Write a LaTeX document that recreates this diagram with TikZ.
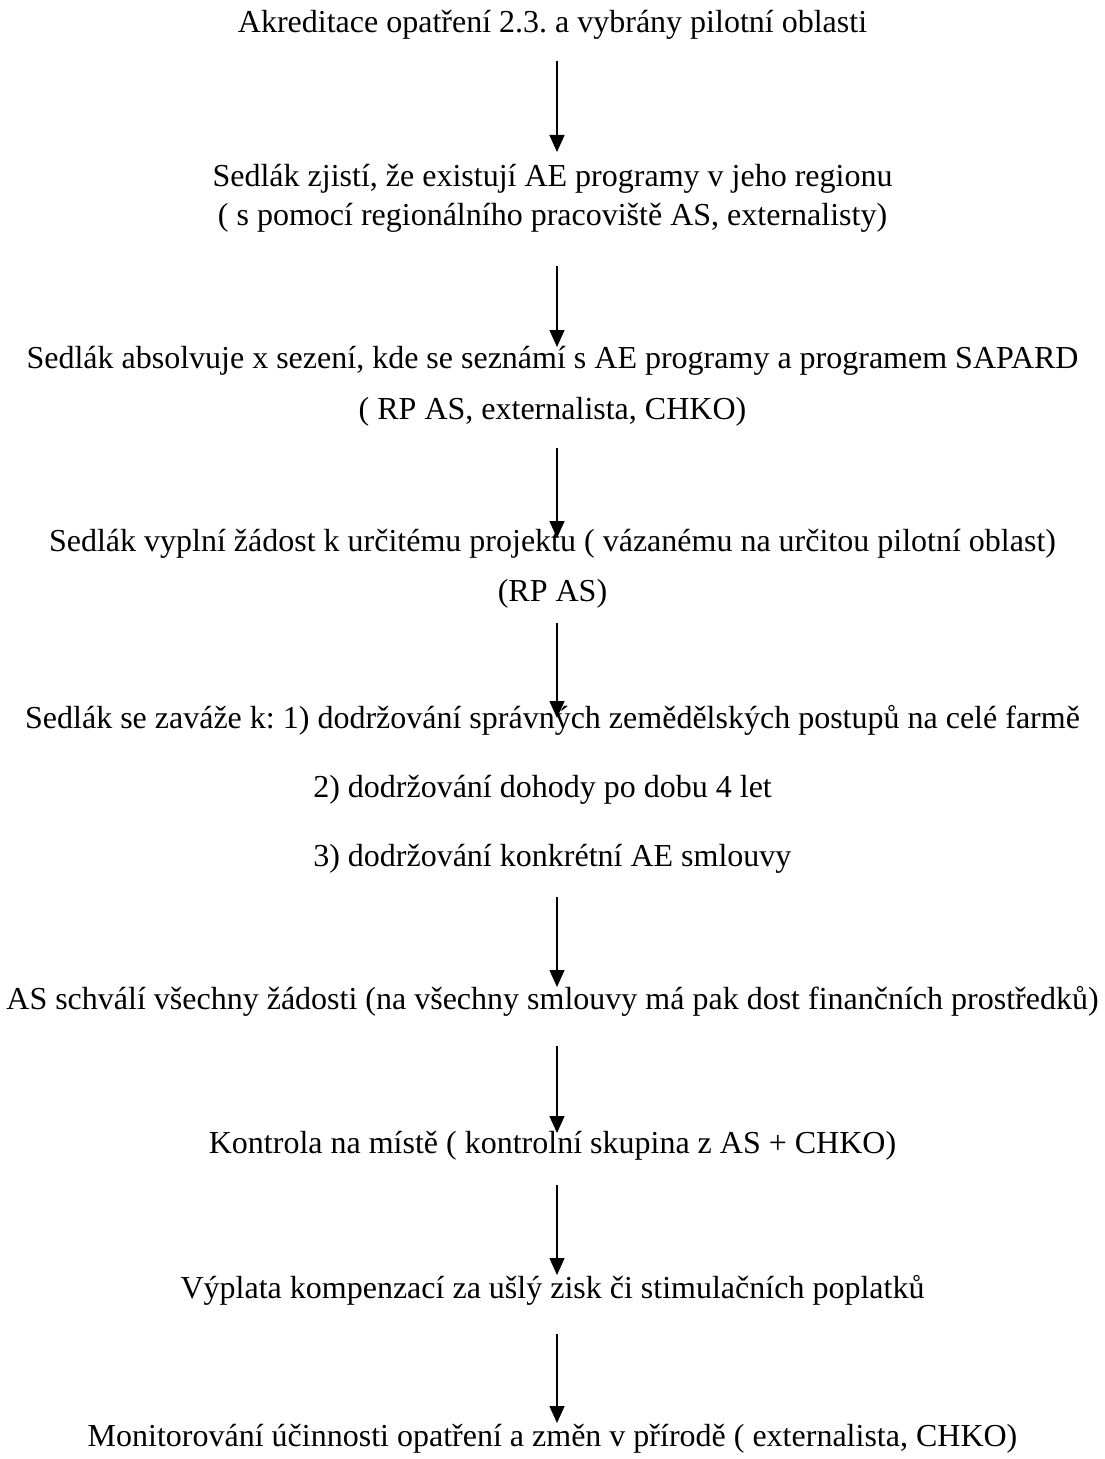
\documentclass[tikz,border=0pt]{standalone}
\usepackage{fontspec}
\setmainfont{Liberation Serif}
\usepackage{tikz}
\usetikzlibrary{arrows.meta}
\frenchspacing

\tikzset{
  txt/.style={anchor=base, inner sep=0.75pt, font=\fontsize{24}{28}\selectfont},
  txtl/.style={txt, anchor=base west},
  flow/.style={line width=1pt, -{Triangle[width=11.25pt,length=12.75pt]}}
}

\begin{document}
\begin{tikzpicture}[x=0.75pt,y=0.75pt,yscale=-1,xscale=1]
    \useasboundingbox (0,0) rectangle (1105,1459);

    % Text Node
    \draw (552.5,33) node [txt] (t1) {Akreditace opatření 2.3. a vybrány pilotní oblasti};
    % Text Node
    \draw (552.5,186) node [txt] (t2) {Sedlák zjistí, že existují AE programy v jeho regionu};
    % Text Node
    \draw (552.5,225) node [txt] (t3) {( s pomocí regionálního pracoviště AS, externalisty)};
    % Text Node
    \draw (552.5,368) node [txt] (t4) {Sedlák absolvuje x sezení, kde se seznámí s AE programy a programem SAPARD};
    % Text Node
    \draw (552.5,419) node [txt] (t5) {( RP AS, externalista, CHKO)};
    % Text Node
    \draw (552.5,551) node [txt] (t6) {Sedlák vyplní žádost k určitému projektu ( vázanému na určitou pilotní oblast)};
    % Text Node
    \draw (552.5,601) node [txt] (t7) {(RP AS)};
    % Text Node
    \draw (552.5,728) node [txt] (t8) {Sedlák se zaváže k: 1) dodržování správných zemědělských postupů na celé farmě};
    % Text Node
    \draw (312,797) node [txtl] (t9) {2) dodržování dohody po dobu 4 let};
    % Text Node
    \draw (312,866) node [txtl] (t10) {3) dodržování konkrétní AE smlouvy};
    % Text Node
    \draw (552.5,1009) node [txt] (t11) {AS schválí všechny žádosti (na všechny smlouvy má pak dost finančních prostředků)};
    % Text Node
    \draw (552.5,1153) node [txt] (t12) {Kontrola na místě ( kontrolní skupina z AS + CHKO)};
    % Text Node
    \draw (552.5,1298) node [txt] (t13) {Výplata kompenzací za ušlý zisk či stimulačních poplatků};
    % Text Node
    \draw (552.5,1446) node [txt] (t14) {Monitorování účinnosti opatření a změn v přírodě ( externalista, CHKO)};

    % arrow ends
    \coordinate (a1) at (557,61);    \coordinate (b1) at (557,152);
    \coordinate (a2) at (557,266);   \coordinate (b2) at (557,347);
    \coordinate (a3) at (557,448);   \coordinate (b3) at (557,538);
    \coordinate (a4) at (557,623);   \coordinate (b4) at (557,718);
    \coordinate (a5) at (557,897);   \coordinate (b5) at (557,987);
    \coordinate (a6) at (557,1046);  \coordinate (b6) at (557,1133);
    \coordinate (a7) at (557,1185);  \coordinate (b7) at (557,1275);
    \coordinate (a8) at (557,1334);  \coordinate (b8) at (557,1423);

    %Straight Lines
    \foreach \i in {1,...,8}
      \draw [flow] (a\i) -- (b\i);

\end{tikzpicture}
\end{document}
